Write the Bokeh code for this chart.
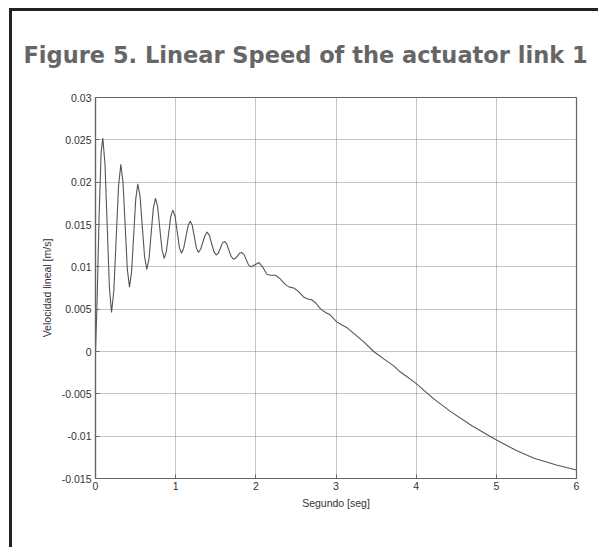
from bokeh.plotting import figure
from bokeh.models import Range1d, FixedTicker, Title
from bokeh.embed import file_html
from bokeh.resources import INLINE

# ---- data ----
time_s = [0.0, 0.02, 0.045, 0.07, 0.091,
          0.118, 0.146, 0.173, 0.200,
          0.229, 0.258, 0.287, 0.316,
          0.343, 0.370, 0.397, 0.424,
          0.450, 0.476, 0.502, 0.528,
          0.556, 0.584, 0.612, 0.640,
          0.667, 0.694, 0.721, 0.748,
          0.775, 0.802, 0.830, 0.857,
          0.884, 0.911, 0.938, 0.965,
          0.992, 1.019, 1.046, 1.073,
          1.100, 1.127, 1.154, 1.181,
          1.207, 1.233, 1.259, 1.285,
          1.312, 1.339, 1.366, 1.393,
          1.421, 1.449, 1.477, 1.505,
          1.531, 1.557, 1.583, 1.609,
          1.637, 1.665, 1.693, 1.721,
          1.746, 1.771, 1.796, 1.821,
          1.851, 1.880, 1.910, 1.940,
          1.990, 2.040, 2.090, 2.140, 2.190, 2.245, 2.300, 2.370, 2.420,
          2.474, 2.530, 2.600, 2.650, 2.700, 2.750, 2.810, 2.870, 2.930,
          3.010, 3.080, 3.140, 3.250, 3.350, 3.470, 3.600, 3.720, 3.800,
          3.990, 4.220, 4.430, 4.700, 4.990, 5.250, 5.470, 5.750, 6.000]
velocity_ms = [0.0, 0.006, 0.016, 0.0235, 0.0252,
               0.0222, 0.0149, 0.0076, 0.0046,
               0.0072, 0.01335, 0.0195, 0.0221,
               0.0200, 0.01485, 0.0097, 0.0076,
               0.0094, 0.0137, 0.0180, 0.0198,
               0.0183, 0.01475, 0.0112, 0.0097,
               0.0109, 0.0139, 0.0169, 0.0181,
               0.0171, 0.01455, 0.0120, 0.0110,
               0.0118, 0.01385, 0.0159, 0.0167,
               0.0160, 0.01415, 0.0123, 0.0116,
               0.0122, 0.0135, 0.0148, 0.0154,
               0.0149, 0.01355, 0.0122, 0.0117,
               0.0121, 0.0129, 0.0137, 0.0141,
               0.0137, 0.01275, 0.0118, 0.0114,
               0.0116, 0.0122, 0.0128, 0.0130,
               0.0127, 0.01195, 0.0112, 0.0109,
               0.0110, 0.0113, 0.0116, 0.0117,
               0.0115, 0.01085, 0.0102, 0.0100,
               0.01025, 0.0105, 0.0099, 0.0091, 0.0090, 0.0090, 0.0086, 0.0079, 0.0076,
               0.0075, 0.0071, 0.0064, 0.0062, 0.0061, 0.0057, 0.0050, 0.0046, 0.0043,
               0.0035, 0.0031, 0.0028, 0.0019, 0.0011, 0.0000, -0.0009, -0.0017, -0.0024,
               -0.0037, -0.0056, -0.0071, -0.0088, -0.0104, -0.0117, -0.0126, -0.0134, -0.0140]

x_ticks = [0, 1, 2, 3, 4, 5, 6]
y_ticks = [-0.015, -0.01, -0.005, 0, 0.005, 0.01, 0.015, 0.02, 0.025, 0.03]
y_tick_labels = ["-0.015", "-0.01", "-0.005", "0", "0.005", "0.01", "0.015", "0.02", "0.025", "0.03"]

title_text = "Figure 5. Linear Speed of the actuator link 1"
x_label = "Segundo [seg]"
y_label = "Velocidad lineal [m/s]"

# ---- figure (page frame lines drawn as the element's CSS borders) ----
p = figure(width=589, height=539, output_backend="svg", toolbar_location=None,
           x_range=Range1d(0, 6), y_range=Range1d(-0.015, 0.03),
           min_border_left=83, min_border_right=25, min_border_top=86, min_border_bottom=72)
p.margin = (8, 0, 0, 9)
p.styles = {"border-top": "3px solid #222222", "border-left": "3px solid #222222"}
p.background_fill_color = "white"
p.border_fill_color = "white"
p.outline_line_color = "#666666"
p.outline_line_width = 1.2

p.line(time_s, velocity_ms, line_color="#555555", line_width=1.1)

AX = "#666666"
LBL_FONT = "Liberation Sans"

xa = p.xaxis[0]
ya = p.yaxis[0]
xa.ticker = FixedTicker(ticks=x_ticks)
ya.ticker = FixedTicker(ticks=y_ticks)
ya.major_label_overrides = {t: l for t, l in zip(y_ticks, y_tick_labels)}
xa.axis_label = x_label
ya.axis_label = y_label
for ax in (xa, ya):
    ax.axis_line_color = AX
    ax.axis_line_width = 1.2
    ax.major_tick_line_color = AX
    ax.major_tick_in = 4
    ax.major_tick_out = 0
    ax.minor_tick_line_color = None
    ax.major_label_text_font = LBL_FONT
    ax.major_label_text_font_size = "10.5px"
    ax.major_label_text_color = "#333333"
    ax.axis_label_text_font = LBL_FONT
    ax.axis_label_text_font_size = "10.5px"
    ax.axis_label_text_font_style = "normal"
    ax.axis_label_text_color = "#333333"
xa.major_label_standoff = 3
ya.major_label_standoff = 4
xa.axis_label_standoff = 4
ya.axis_label_standoff = 6

for g in (p.xgrid[0], p.ygrid[0]):
    g.grid_line_color = "#888888"
    g.grid_line_dash = "1 1"
    g.grid_line_width = 1
p.xgrid[0].ticker = FixedTicker(ticks=x_ticks)
p.ygrid[0].ticker = FixedTicker(ticks=y_ticks)

p.title = Title(text=title_text, align="left", offset=-72, standoff=55,
                vertical_align="top",
                text_font="DejaVu Sans", text_font_style="bold", text_font_size="22.5px",
                text_color="#666666")

open("out.html", "w").write(file_html(p, INLINE))
